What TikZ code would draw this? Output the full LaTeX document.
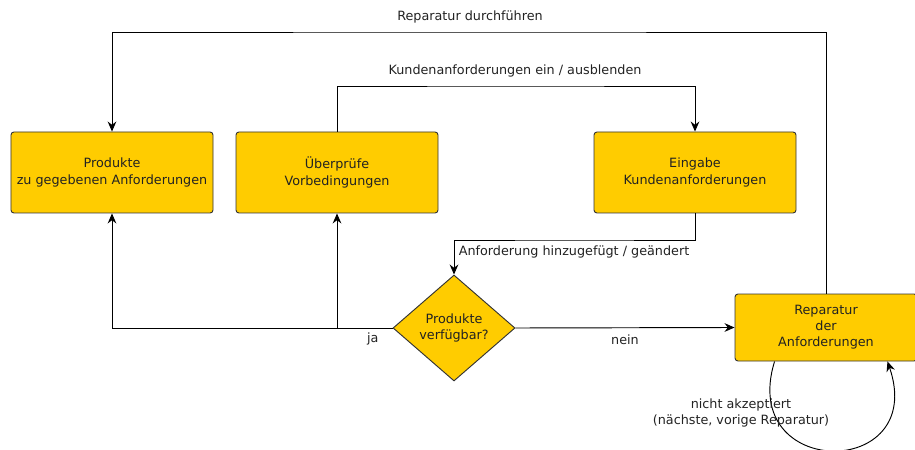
\documentclass[tikz,border=0pt]{standalone}
\usepackage{fontspec}
\setmainfont{DejaVu Sans}
\usepackage{xcolor}
\definecolor{cFill}{HTML}{FFCC00}
\definecolor{cLine}{HTML}{333333}
\definecolor{cText}{HTML}{222222}
\usetikzlibrary{positioning,arrows.meta,shapes.geometric}
\tikzset{
  node-box/.style={draw=cLine,fill=cFill,rounded corners=2.5pt,line width=0.8pt,
    minimum width=60.6mm,minimum height=24.3mm,align=center,
    font=\fontsize{10.9}{14.5}\selectfont,text=cText},
  node-repair/.style={node-box,minimum width=54.6mm,minimum height=20.1mm,
    font=\fontsize{10.9}{13.8}\selectfont},
  node-decision/.style={diamond,draw=cLine,fill=cFill,inner sep=0pt,line width=0.8pt,
    minimum width=36.6mm,minimum height=31.8mm,align=center,
    font=\fontsize{10.9}{13.8}\selectfont,text=cText},
  arrow/.style={-{Stealth[length=3mm,width=2.6mm]},draw=black,line width=0.8pt},
  edge-label/.style={font=\fontsize{10.9}{13.8}\selectfont,text=cText,align=center},
}

\begin{document}
\begin{tikzpicture}[x=0.3mm,y=-0.3mm]
  \useasboundingbox (0,0) rectangle (915,450);
  \node[node-box] (prod) at (112,172.5) {Produkte\\zu gegebenen Anforderungen};
  \node[node-box] (pruef) at (337,172.5) {Überprüfe\\Vorbedingungen};
  \node[node-box] (eingabe) at (695,172.5) {Eingabe\\Kundenanforderungen};
  \node[node-decision] (verfueg) at (454,328) {Produkte\\verfügbar?};
  \node[node-repair] (reparatur) at (826,327.5) {Reparatur\\der\\Anforderungen};

  \coordinate (oben) at (470,32);
  \coordinate (mitte) at (515,86);
  \coordinate (aend) at (574,240);
  \coordinate (ja) at (verfueg.west -| pruef.south);

  \draw[arrow] (reparatur.north) |- (oben)
    node[above=1.2mm,edge-label] {Reparatur durchführen} -| (prod.north);
  \draw[arrow] (pruef.north) |- (mitte)
    node[above=1.2mm,edge-label] {Kundenanforderungen ein / ausblenden} -| (eingabe.north);
  \draw[arrow] (eingabe.south) |- (aend)
    node[below=0.3mm,edge-label] {Anforderung hinzugefügt / geändert} -| (verfueg.north);
  \draw[arrow] (verfueg.west) -| (prod.south);
  \draw[arrow] (ja) -- (pruef.south);
  \node[edge-label,below left=0.3mm and 3mm] at (verfueg.west) {ja};
  \draw[arrow] (verfueg.east) -- node[below=0.8mm,edge-label] {nein} (reparatur.west);

  % Schleife unter der Reparatur
  \draw[arrow] ([xshift=12mm]reparatur.south west)
    .. controls (738,480) and (928,480) .. ([xshift=-9mm]reparatur.south east);
  \node[edge-label] (nakz) at (741,413) {nicht akzeptiert\\(nächste, vorige Reparatur)};
\end{tikzpicture}
\end{document}
